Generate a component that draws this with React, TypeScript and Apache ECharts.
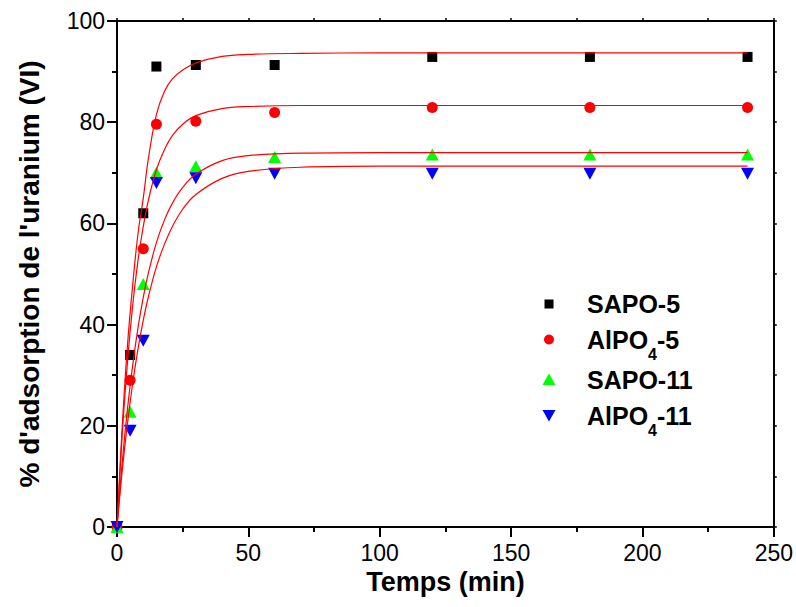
import React, { useEffect, useRef } from 'react';
import * as echarts from 'echarts';

// Measured points (time in min, % adsorption)
const TIME = [0, 5, 10, 15, 30, 60, 120, 180, 240];
const SAPO5 = [0, 34, 62, 91, 91.3, 91.3, 92.9, 92.9, 92.9];
const ALPO5 = [0, 29, 55, 79.6, 80.2, 81.9, 82.9, 82.9, 82.9];
const SAPO11 = [0, 22.8, 48, 70, 71.3, 73.1, 73.6, 73.6, 73.6];
const ALPO11 = [0, 19, 36.8, 68, 68.9, 69.8, 69.8, 69.8, 69.8];

// Fitted curves
const FIT_TIME = [0, 2, 4, 6, 8, 10, 12, 15, 18, 21, 25, 30, 40, 50, 70, 100, 150, 240];
const SAPO5_FIT = [0, 20, 36, 48, 58, 65, 73, 81.5, 86, 88.5, 90.3, 91.7, 93, 93.4, 93.6, 93.7, 93.7, 93.7];
const ALPO5_FIT = [0, 18.4, 32.7, 44, 52.7, 59.4, 64.7, 70.6, 74.5, 77.3, 79.6, 81.3, 82.7, 83.1, 83.3, 83.3, 83.3, 83.3];
const SAPO11_FIT = [0, 12.8, 23.4, 32.1, 39.4, 45.4, 50.3, 56.2, 60.6, 63.9, 67.1, 69.7, 72.4, 73.4, 73.9, 74, 74, 74];
const ALPO11_FIT = [0, 11.2, 20.5, 28.5, 35.2, 40.9, 45.6, 51.4, 55.8, 59.3, 62.8, 65.7, 68.9, 70.3, 71.1, 71.3, 71.3, 71.3];

const X_MIN = 0, X_MAX = 250, X_STEP = 50;
const Y_MIN = 0, Y_MAX = 100, Y_STEP = 20;

const SANS = '"Liberation Sans", Arial, sans-serif';

function pairs(xs: number[], ys: number[]) {
  return xs.map((x, i) => [x, ys[i]]);
}

function measure(text: string, font: string) {
  const c = document.createElement('canvas').getContext('2d');
  if (!c) return text.length * 12;
  c.font = font;
  return c.measureText(text).width;
}

export default function App() {
  const ref = useRef<HTMLDivElement>(null);
  useEffect(() => {
    document.body.style.margin = '0';
    if (!ref.current) return;
    const chart = echarts.init(ref.current, undefined, { renderer: 'svg' });

    const legendX = 549;
    const textX = 587;
    const rows = [304, 339.5, 379.5, 415.5];
    const mainFont = `bold 25px ${SANS}`;
    const subFont = `bold 16px ${SANS}`;
    const wAlPO = measure('AlPO', mainFont);
    const w4 = measure('4', subFont);

    const mainStyle = (text: string, x: number, y: number) => ({
      type: 'text',
      style: { text, x, y, fill: '#000', font: mainFont, verticalAlign: 'middle', align: 'left' },
    });
    const subStyle = (x: number, y: number) => ({
      type: 'text',
      style: { text: '4', x, y: y + 7, fill: '#000', font: subFont, verticalAlign: 'top', align: 'left' },
    });

    const legendGraphics: any[] = [
      { type: 'rect', shape: { x: legendX - 4.5, y: rows[0] - 4.5, width: 9, height: 9 }, style: { fill: '#000' } },
      mainStyle('SAPO-5', textX, rows[0]),
      { type: 'circle', shape: { cx: legendX, cy: rows[1], r: 5 }, style: { fill: '#ff0000' } },
      mainStyle('AlPO', textX, rows[1]),
      subStyle(textX + wAlPO, rows[1]),
      mainStyle('-5', textX + wAlPO + w4, rows[1]),
      { type: 'polygon', shape: { points: [[legendX - 6.5, rows[2] + 5.5], [legendX + 6.5, rows[2] + 5.5], [legendX, rows[2] - 6]] }, style: { fill: '#00ff00' } },
      mainStyle('SAPO-11', textX, rows[2]),
      { type: 'polygon', shape: { points: [[legendX - 6.5, rows[3] - 5.5], [legendX + 6.5, rows[3] - 5.5], [legendX, rows[3] + 6]] }, style: { fill: '#0000ff' } },
      mainStyle('AlPO', textX, rows[3]),
      subStyle(textX + wAlPO, rows[3]),
      mainStyle('-11', textX + wAlPO + w4, rows[3]),
    ];

    const axisLine = { show: true, onZero: false, lineStyle: { color: '#000', width: 2 } };

    const option: any = {
      animation: false,
      backgroundColor: '#fff',
      grid: { left: 117, right: 22, top: 21, bottom: 80, containLabel: false },
      xAxis: [
        {
          type: 'value', position: 'bottom', min: X_MIN, max: X_MAX, interval: X_STEP,
          axisLine,
          axisTick: { show: true, inside: false, length: 10, lineStyle: { color: '#000', width: 2 } },
          minorTick: { show: true, splitNumber: 2, length: 5, lineStyle: { color: '#000', width: 2 } },
          splitLine: { show: false }, minorSplitLine: { show: false },
          axisLabel: { color: '#000', fontSize: 23, fontFamily: SANS, margin: 14 },
          name: 'Temps (min)', nameLocation: 'middle', nameGap: 39,
          nameTextStyle: { color: '#000', fontSize: 27, fontWeight: 'bold', fontFamily: SANS },
        },
        {
          type: 'value', position: 'top', min: X_MIN, max: X_MAX, interval: X_STEP / 2,
          axisLine,
          axisTick: { show: true, inside: false, length: 3, lineStyle: { color: '#000', width: 1.5 } },
          axisLabel: { show: false }, splitLine: { show: false },
        },
      ],
      yAxis: [
        {
          type: 'value', position: 'left', min: Y_MIN, max: Y_MAX, interval: Y_STEP,
          axisLine,
          axisTick: { show: true, inside: false, length: 10, lineStyle: { color: '#000', width: 2 } },
          minorTick: { show: true, splitNumber: 2, length: 5, lineStyle: { color: '#000', width: 2 } },
          splitLine: { show: false }, minorSplitLine: { show: false },
          axisLabel: { color: '#000', fontSize: 23, fontFamily: SANS, margin: 12 },
          name: "% d'adsorption de l'uranium (VI)", nameLocation: 'middle', nameGap: 74,
          nameTextStyle: { color: '#000', fontSize: 28, fontWeight: 'bold', fontFamily: SANS },
        },
        {
          type: 'value', position: 'right', min: Y_MIN, max: Y_MAX, interval: Y_STEP / 2,
          axisLine,
          axisTick: { show: true, inside: false, length: 3, lineStyle: { color: '#000', width: 1.5 } },
          axisLabel: { show: false }, splitLine: { show: false },
        },
      ],
      series: [
        { name: 'SAPO-5', type: 'scatter', data: pairs(TIME, SAPO5), symbol: 'rect', symbolSize: 10, itemStyle: { color: '#000', opacity: 1 } },
        { name: 'AlPO4-5', type: 'scatter', data: pairs(TIME, ALPO5), symbol: 'circle', symbolSize: 11, itemStyle: { color: '#ff0000', opacity: 1 } },
        { name: 'SAPO-11', type: 'scatter', data: pairs(TIME, SAPO11), symbol: 'triangle', symbolSize: [13, 12], itemStyle: { color: '#00ff00', opacity: 1 } },
        { name: 'AlPO4-11', type: 'scatter', data: pairs(TIME, ALPO11), symbol: 'triangle', symbolRotate: 180, symbolSize: [13, 12], itemStyle: { color: '#0000ff', opacity: 1 } },
        ...[SAPO5_FIT, ALPO5_FIT, SAPO11_FIT, ALPO11_FIT].map((fit, i) => ({
          name: 'fit' + i, type: 'line', data: pairs(FIT_TIME, fit), smooth: 0.4, showSymbol: false,
          lineStyle: { color: '#ff0000', width: 1.2 }, z: 3,
        })),
      ],
      graphic: legendGraphics,
    };
    chart.setOption(option);
    return () => chart.dispose();
  }, []);
  return <div ref={ref} style={{ width: 796, height: 607 }} />;
}
